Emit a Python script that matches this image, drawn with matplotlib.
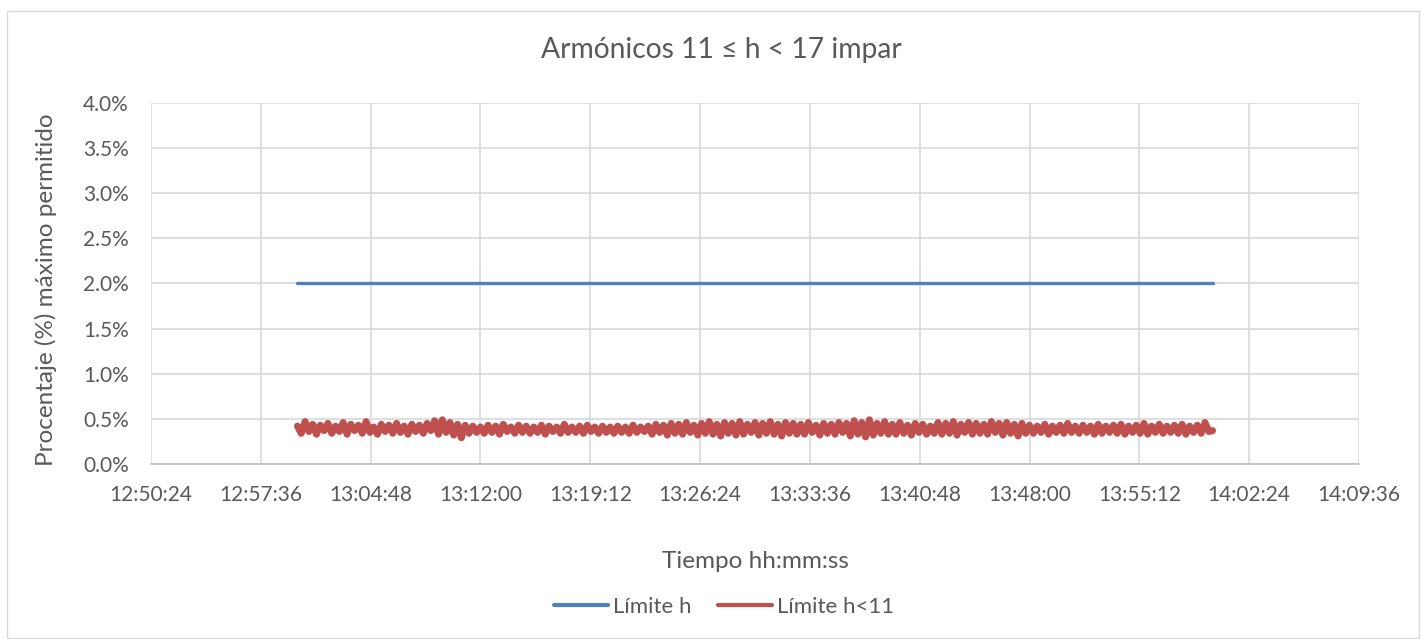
import matplotlib
matplotlib.use("Agg")
import matplotlib.pyplot as plt
import matplotlib.dates as mdates
from matplotlib.patches import Rectangle
import pandas as pd

plt.rcParams['font.family'] = ['Lato', 'DejaVu Sans']

# datos: una muestra cada 15 s de 13:00:00 a 14:00:00
tiempos = pd.date_range("2020-01-01 13:00:00", "2020-01-01 14:00:00", freq="15s")
limite_h = [2.0] * len(tiempos)
limite_h11 = [
    0.42, 0.34, 0.47, 0.36, 0.44, 0.33, 0.43, 0.37, 0.45, 0.34, 0.42, 0.36,
    0.46, 0.33, 0.44, 0.37, 0.43, 0.34, 0.47, 0.35, 0.41, 0.33, 0.44, 0.36,
    0.43, 0.34, 0.45, 0.35, 0.42, 0.33, 0.44, 0.36, 0.43, 0.34, 0.45, 0.37,
    0.48, 0.33, 0.49, 0.35, 0.46, 0.32, 0.44, 0.29, 0.43, 0.34, 0.42, 0.35,
    0.41, 0.34, 0.43, 0.35, 0.42, 0.33, 0.44, 0.36, 0.41, 0.34, 0.43, 0.35,
    0.42, 0.34, 0.41, 0.35, 0.43, 0.33, 0.42, 0.36, 0.41, 0.34, 0.44, 0.35,
    0.41, 0.35, 0.42, 0.34, 0.43, 0.36, 0.41, 0.34, 0.42, 0.35, 0.41, 0.34,
    0.42, 0.35, 0.41, 0.34, 0.43, 0.35, 0.41, 0.36, 0.42, 0.33, 0.44, 0.35,
    0.43, 0.32, 0.45, 0.34, 0.44, 0.33, 0.46, 0.35, 0.43, 0.32, 0.45, 0.34,
    0.47, 0.33, 0.44, 0.31, 0.46, 0.34, 0.45, 0.32, 0.47, 0.33, 0.44, 0.35,
    0.46, 0.32, 0.45, 0.34, 0.47, 0.33, 0.44, 0.31, 0.46, 0.34, 0.45, 0.33,
    0.44, 0.33, 0.46, 0.35, 0.43, 0.32, 0.45, 0.34, 0.44, 0.33, 0.46, 0.35,
    0.45, 0.31, 0.48, 0.33, 0.46, 0.30, 0.49, 0.32, 0.45, 0.34, 0.47, 0.33,
    0.44, 0.33, 0.46, 0.34, 0.43, 0.32, 0.45, 0.35, 0.44, 0.33, 0.42, 0.34,
    0.46, 0.33, 0.45, 0.34, 0.47, 0.32, 0.44, 0.35, 0.46, 0.33, 0.45, 0.34,
    0.44, 0.33, 0.47, 0.35, 0.45, 0.32, 0.46, 0.34, 0.44, 0.31, 0.45, 0.34,
    0.43, 0.34, 0.42, 0.35, 0.44, 0.33, 0.42, 0.35, 0.43, 0.34, 0.45, 0.35,
    0.42, 0.34, 0.43, 0.35, 0.42, 0.33, 0.44, 0.34, 0.42, 0.35, 0.43, 0.34,
    0.44, 0.33, 0.42, 0.35, 0.43, 0.34, 0.45, 0.33, 0.42, 0.35, 0.44, 0.34,
    0.42, 0.35, 0.43, 0.34, 0.44, 0.33, 0.42, 0.35, 0.43, 0.34, 0.46, 0.36,
    0.37,
]
ticks_x = ["12:50:24", "12:57:36", "13:04:48", "13:12:00", "13:19:12", "13:26:24",
           "13:33:36", "13:40:48", "13:48:00", "13:55:12", "14:02:24", "14:09:36"]
ticks_y = [0.0, 0.5, 1.0, 1.5, 2.0, 2.5, 3.0, 3.5, 4.0]

gris = '#595959'
W, H = 1421, 639
fig = plt.figure(figsize=(W / 100, H / 100), dpi=100)
fig.patches.append(Rectangle((7 / W, 1 / H), 1412 / W, 627 / H,
                             transform=fig.transFigure, fill=False,
                             edgecolor='#D9D9D9', linewidth=1))
ax = fig.add_axes([151 / W, 175 / H, 1208 / W, 361 / H])

ax.plot(tiempos, limite_h, color='#4F81BD', linewidth=2.4, label='Límite h',
        solid_capstyle='round')
# la serie roja es muy densa: trazo grueso para que forme la banda
ax.plot(tiempos, limite_h11, color='#C0504D', linewidth=5, label='Límite h<11',
        solid_capstyle='round', solid_joinstyle='round')

xt = [pd.Timestamp("2020-01-01 " + t) for t in ticks_x]
ax.set_xlim(xt[0], xt[-1])
ax.set_xticks(xt)
ax.xaxis.set_major_formatter(mdates.DateFormatter('%H:%M:%S'))
ax.set_ylim(0, 4)
ax.set_yticks(ticks_y)
ax.set_yticklabels([f"{v:.1f}%" for v in ticks_y])

ax.grid(True, color='#D9D9D9', linewidth=1.2)
ax.set_axisbelow(True)
for s in ['top', 'right', 'left']:
    ax.spines[s].set_visible(False)
ax.spines['bottom'].set_color('#BFBFBF')
ax.spines['bottom'].set_linewidth(1.2)
ax.tick_params(length=0, labelsize=15, colors=gris)
ax.tick_params(axis='x', pad=15)
ax.tick_params(axis='y', pad=16)

fig.text(721 / W, 1 - 50 / H, 'Armónicos 11 ≤ h < 17 impar', fontsize=20.3,
         color=gris, ha='center', va='center')
fig.text(755 / W, 1 - 562 / H, 'Tiempo hh:mm:ss', fontsize=17.5,
         color=gris, ha='center', va='center')
fig.text(46 / W, 1 - 290 / H, 'Procentaje (%) máximo permitido', fontsize=17.5,
         color=gris, ha='center', va='center', rotation=90)

leg = fig.legend(loc='center', bbox_to_anchor=(724 / W, 1 - 607 / H), ncol=2,
                 frameon=False, fontsize=16, handlelength=2.45, handletextpad=0.2,
                 columnspacing=1.2)
for t in leg.get_texts():
    t.set_color(gris)
for ln in leg.get_lines():
    ln.set_linewidth(3)

fig.savefig('out.png', dpi=100)
